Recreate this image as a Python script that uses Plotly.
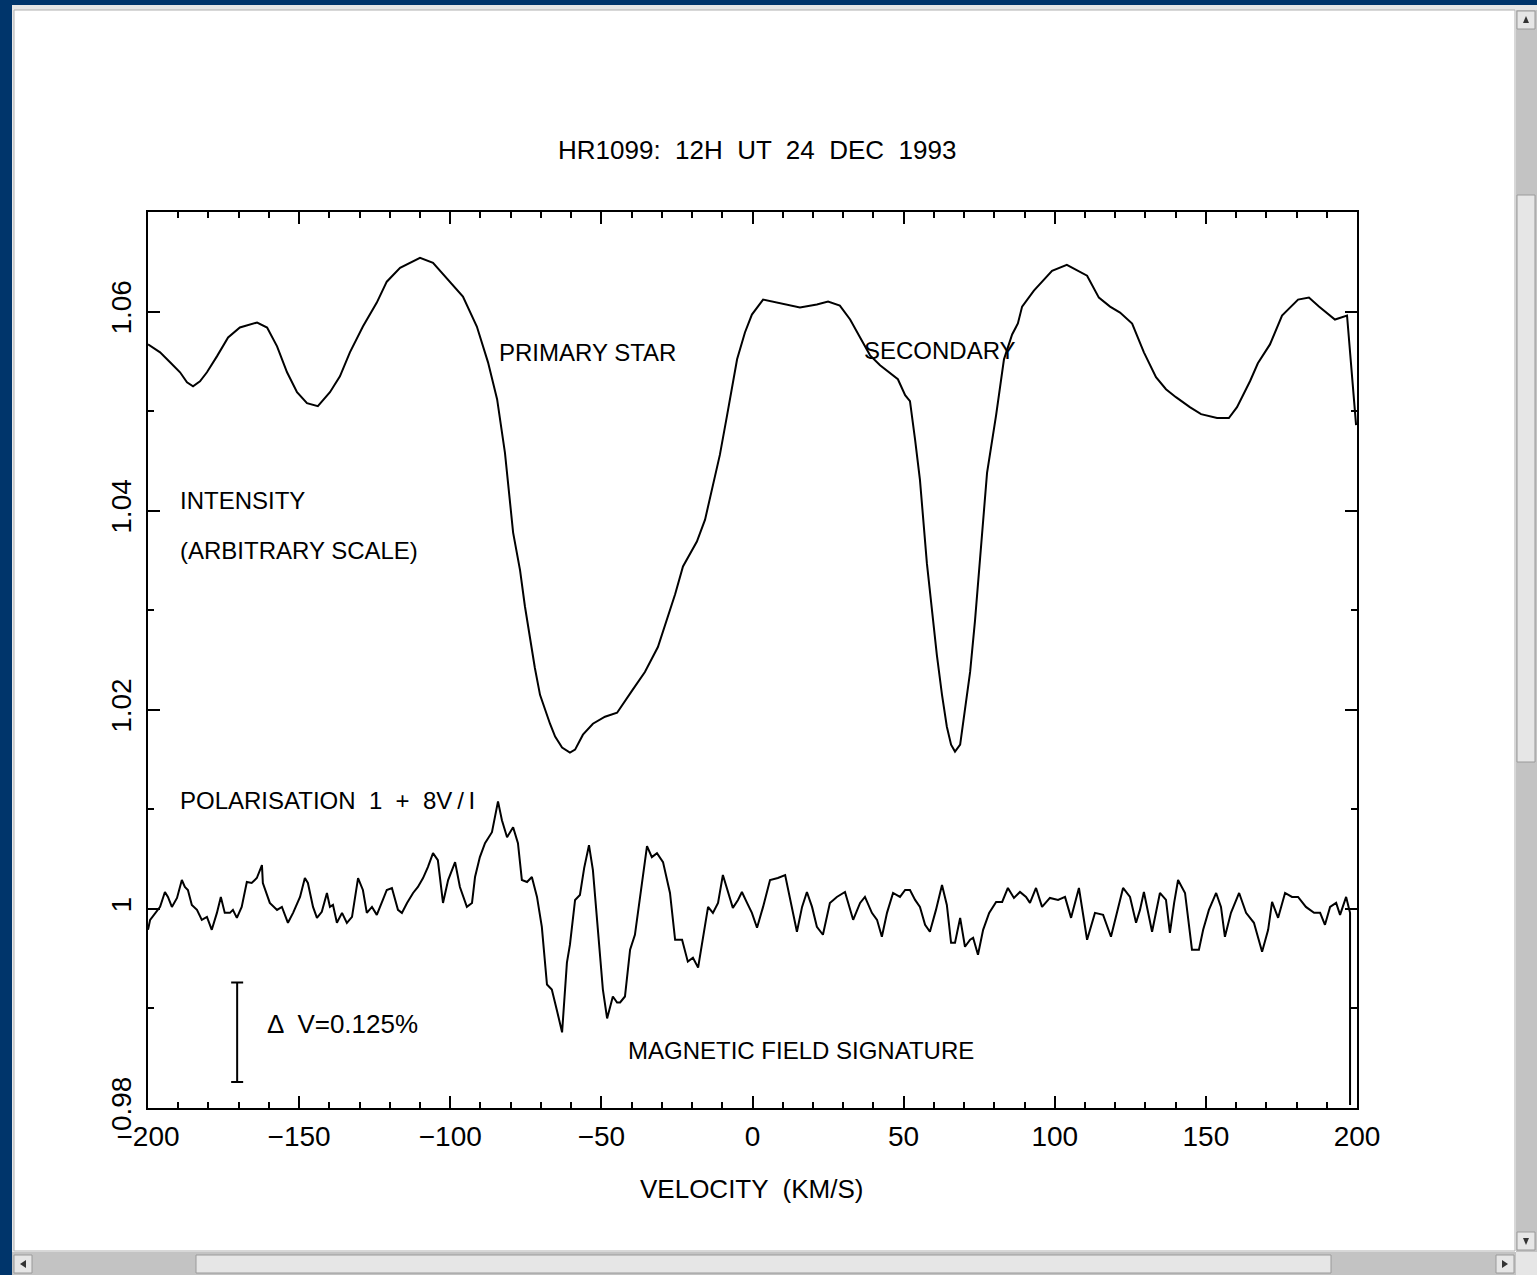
import plotly.graph_objects as go

# ---------------------------------------------------------------------------
# HR1099 line profiles, 12h UT 24 Dec 1993
# ---------------------------------------------------------------------------

# Intensity profile (arbitrary scale)
velocity_i = [
    -200.0, -196.0, -192.7, -189.4, -187.1, -185.1, -182.8, -180.5, -177.2, -173.5,
    -169.6, -163.9, -160.6, -157.3, -154.0, -150.7, -147.4, -143.8, -139.8, -136.5,
    -133.2, -128.9, -124.3, -121.0, -116.6, -110.0, -105.7, -100.1, -95.8, -91.2,
    -87.5, -84.5, -81.9, -79.2, -76.9, -75.3, -73.6, -72.0, -70.3, -68.7,
    -67.0, -65.3, -63.0, -60.4, -58.7, -56.1, -52.8, -48.8, -44.8, -39.9,
    -35.6, -31.3, -28.9, -25.6, -23.0, -18.4, -15.7, -13.1, -10.8, -8.4,
    -5.1, -2.5, -0.2, 3.5, 10.1, 15.7, 21.3, 25.0, 28.9, 32.3,
    35.6, 38.9, 42.2, 45.5, 48.1, 50.5, 52.1, 53.8, 55.4, 57.7,
    59.4, 61.0, 62.7, 64.3, 65.7, 67.0, 68.7, 70.3, 72.0, 73.6,
    75.6, 77.6, 80.6, 83.2, 85.9, 87.8, 89.2, 93.1, 99.1, 104.0,
    110.7, 114.6, 118.3, 121.6, 125.6, 129.5, 133.5, 136.8, 140.1, 144.7,
    148.4, 153.7, 157.6, 160.3, 164.6, 167.2, 171.2, 175.2, 180.5, 184.1,
    187.4, 192.7, 196.7, 199.7,
]
intensity = [
    1.0567, 1.0559, 1.0549, 1.0539, 1.0529, 1.0525, 1.0530, 1.0539, 1.0555, 1.0574,
    1.0584, 1.0589, 1.0584, 1.0565, 1.0539, 1.0519, 1.0508, 1.0505, 1.0519, 1.0535,
    1.0559, 1.0585, 1.0609, 1.0630, 1.0644, 1.0654, 1.0649, 1.0630, 1.0615, 1.0585,
    1.0549, 1.0512, 1.0458, 1.0378, 1.0340, 1.0304, 1.0270, 1.0242, 1.0215, 1.0200,
    1.0186, 1.0173, 1.0162, 1.0157, 1.0160, 1.0175, 1.0186, 1.0193, 1.0197, 1.0219,
    1.0238, 1.0263, 1.0285, 1.0316, 1.0344, 1.0369, 1.0391, 1.0427, 1.0456, 1.0496,
    1.0552, 1.0579, 1.0597, 1.0612, 1.0608, 1.0604, 1.0607, 1.0610, 1.0606, 1.0592,
    1.0574, 1.0556, 1.0546, 1.0538, 1.0532, 1.0516, 1.0510, 1.0471, 1.0431, 1.0347,
    1.0300, 1.0255, 1.0215, 1.0183, 1.0165, 1.0158, 1.0165, 1.0198, 1.0238, 1.0289,
    1.0366, 1.0438, 1.0496, 1.0552, 1.0577, 1.0588, 1.0605, 1.0621, 1.0641, 1.0647,
    1.0636, 1.0614, 1.0605, 1.0599, 1.0588, 1.0559, 1.0534, 1.0522, 1.0514, 1.0504,
    1.0497, 1.0493, 1.0493, 1.0504, 1.0530, 1.0548, 1.0567, 1.0596, 1.0612, 1.0614,
    1.0605, 1.0592, 1.0596, 1.0486,
]

# Circular polarisation, plotted as 1 + 8V/I
velocity_v = [
    -200.0, -199.3, -196.0, -194.4, -193.4, -192.1, -190.4, -188.8, -187.8, -186.8,
    -185.5, -183.8, -182.2, -180.5, -178.9, -177.2, -175.9, -174.6, -172.9, -171.9,
    -170.6, -169.0, -167.3, -165.7, -164.0, -162.3, -162.0, -159.7, -157.3, -155.7,
    -153.7, -152.0, -149.7, -148.1, -147.1, -145.4, -144.1, -142.5, -140.8, -139.8,
    -138.8, -137.5, -135.8, -134.2, -132.5, -131.5, -130.5, -128.9, -127.6, -125.9,
    -124.3, -122.3, -121.0, -119.3, -117.3, -116.0, -114.3, -112.3, -110.7, -109.0,
    -107.4, -105.7, -104.1, -102.4, -100.7, -98.4, -96.8, -94.5, -92.8, -91.8,
    -90.2, -88.5, -86.2, -84.2, -82.9, -81.2, -79.2, -77.6, -76.3, -74.6,
    -73.0, -71.3, -69.7, -68.0, -66.4, -64.7, -63.0, -61.4, -60.4, -58.7,
    -57.1, -55.7, -54.1, -52.8, -51.1, -49.5, -48.1, -46.2, -44.8, -43.8,
    -42.2, -40.5, -38.9, -36.9, -34.9, -33.3, -31.6, -29.6, -27.3, -25.6,
    -23.3, -21.4, -19.7, -18.0, -16.4, -14.7, -13.1, -11.4, -9.8, -8.1,
    -6.5, -4.8, -3.5, -1.8, -0.2, 1.5, 3.5, 5.8, 8.4, 10.8,
    12.4, 14.7, 16.4, 18.0, 19.7, 21.3, 23.3, 25.6, 27.9, 30.6,
    33.3, 35.6, 37.2, 39.5, 41.2, 42.8, 44.5, 46.5, 48.8, 50.5,
    52.1, 53.8, 55.4, 57.1, 58.7, 60.7, 62.7, 64.3, 65.7, 67.0,
    68.7, 70.3, 72.0, 73.0, 74.6, 76.3, 78.3, 80.6, 82.6, 84.5,
    86.5, 88.5, 90.5, 91.8, 93.8, 95.8, 98.4, 101.1, 103.4, 105.4,
    108.0, 110.7, 113.3, 116.0, 118.6, 120.6, 122.6, 124.9, 126.9, 128.2,
    129.5, 132.2, 134.8, 136.8, 138.1, 139.5, 140.8, 143.1, 145.4, 147.7,
    149.1, 151.0, 153.4, 155.0, 156.3, 158.3, 161.0, 163.3, 165.9, 168.6,
    170.6, 171.9, 173.9, 176.2, 178.5, 180.5, 183.1, 185.8, 187.8, 189.4,
    191.1, 193.1, 194.4, 196.4, 197.7, 197.7,
]
polarisation = [
    0.9979, 0.9989, 1.0002, 1.0017, 1.0012, 1.0002, 1.0011, 1.0029, 1.0022, 1.0019,
    1.0004, 0.9999, 0.9989, 0.9992, 0.9979, 0.9996, 1.0012, 0.9996, 0.9996, 0.9999,
    0.9991, 1.0002, 1.0027, 1.0026, 1.0031, 1.0044, 1.0026, 1.0006, 0.9999, 1.0002,
    0.9986, 0.9996, 1.0012, 1.0031, 1.0026, 1.0002, 0.9991, 0.9997, 1.0016, 1.0002,
    1.0004, 0.9986, 0.9996, 0.9986, 0.9992, 1.0012, 1.0031, 1.0019, 0.9996, 1.0002,
    0.9994, 1.0009, 1.0019, 1.0021, 0.9999, 0.9996, 1.0006, 1.0016, 1.0022, 1.0031,
    1.0042, 1.0056, 1.0049, 1.0006, 1.0029, 1.0047, 1.0022, 1.0002, 1.0006, 1.0032,
    1.0052, 1.0066, 1.0077, 1.0108, 1.0089, 1.0072, 1.0082, 1.0066, 1.0029, 1.0027,
    1.0032, 1.0012, 0.9982, 0.9924, 0.9919, 0.9898, 0.9876, 0.9946, 0.9964, 1.0009,
    1.0014, 1.0041, 1.0064, 1.0039, 0.9979, 0.9919, 0.9890, 0.9912, 0.9906, 0.9906,
    0.9912, 0.9959, 0.9974, 1.0019, 1.0063, 1.0052, 1.0056, 1.0047, 1.0016, 0.9969,
    0.9969, 0.9947, 0.9951, 0.9941, 0.9972, 1.0002, 0.9996, 1.0006, 1.0034, 1.0016,
    1.0001, 1.0009, 1.0017, 1.0006, 0.9996, 0.9981, 1.0002, 1.0029, 1.0031, 1.0034,
    1.0009, 0.9977, 1.0002, 1.0017, 1.0002, 0.9982, 0.9974, 1.0006, 1.0012, 1.0017,
    0.9989, 1.0006, 1.0012, 0.9996, 0.9989, 0.9972, 0.9996, 1.0016, 1.0012, 1.0019,
    1.0019, 1.0009, 1.0002, 0.9984, 0.9977, 0.9999, 1.0024, 1.0004, 0.9966, 0.9966,
    0.9991, 0.9962, 0.9969, 0.9971, 0.9954, 0.9979, 0.9996, 1.0007, 1.0007, 1.0021,
    1.0011, 1.0017, 1.0012, 1.0006, 1.0021, 1.0002, 1.0011, 1.0009, 1.0012, 0.9991,
    1.0021, 0.9969, 0.9996, 0.9994, 0.9972, 0.9996, 1.0021, 1.0012, 0.9986, 0.9999,
    1.0017, 0.9977, 1.0016, 1.0009, 0.9976, 1.0006, 1.0029, 1.0016, 0.9959, 0.9959,
    0.9979, 0.9999, 1.0016, 1.0002, 0.9972, 0.9996, 1.0016, 0.9996, 0.9986, 0.9957,
    0.9979, 1.0007, 0.9991, 1.0016, 1.0012, 1.0012, 1.0002, 0.9996, 0.9996, 0.9984,
    1.0002, 1.0006, 0.9994, 1.0012, 0.9996, 0.9803,
]

# Scale bar for Stokes V: delta V = 0.125 %, amplified by 8 in the plot
scale_bar_velocity = -170.5
scale_bar_centre = 0.9876
delta_v_percent = 0.125
amplification = 8

# Axis ticks
x_tick_values = [-200, -150, -100, -50, 0, 50, 100, 150, 200]
x_tick_labels = ["\u2212200", "\u2212150", "\u2212100", "\u221250", "0", "50", "100", "150", "200"]
y_tick_values = [0.98, 1.00, 1.02, 1.04, 1.06]
y_tick_labels = ["0.98", "1", "1.02", "1.04", "1.06"]

FONT = "Liberation Sans, Arial, sans-serif"

# Page geometry (pixels)
FIG_W, FIG_H = 1537, 1275
PLOT_L, PLOT_R, PLOT_T, PLOT_B = 148, 1357, 212, 1108
PW, PH = PLOT_R - PLOT_L, PLOT_B - PLOT_T


def px_x(p):
    return (p - PLOT_L) / PW


def px_y(p):
    return (PLOT_B - p) / PH


fig = go.Figure()

fig.add_trace(go.Scatter(
    x=velocity_i, y=intensity, mode="lines",
    line=dict(color="black", width=2), hoverinfo="skip", showlegend=False,
))
fig.add_trace(go.Scatter(
    x=velocity_v, y=polarisation, mode="lines",
    line=dict(color="black", width=2), hoverinfo="skip", showlegend=False,
))

half_bar = amplification * delta_v_percent / 100 / 2
fig.add_trace(go.Scatter(
    x=[scale_bar_velocity], y=[scale_bar_centre], mode="markers",
    marker=dict(size=1, color="rgba(0,0,0,0)"),
    error_y=dict(type="data", array=[half_bar], symmetric=True,
                 color="black", thickness=2, width=6),
    hoverinfo="skip", showlegend=False,
))

axis_common = dict(
    showline=True, linecolor="black", linewidth=2, mirror="ticks",
    ticks="inside", tickcolor="black", tickwidth=2, ticklen=12,
    showgrid=False, zeroline=False,
    tickfont=dict(family=FONT, size=28, color="black"),
)

fig.update_xaxes(
    range=[-200, 200], tickmode="array", tickvals=x_tick_values, ticktext=x_tick_labels,
    ticklabelstandoff=2,
    minor=dict(ticks="inside", ticklen=6, tickwidth=1.5, tickcolor="black",
               tickmode="linear", tick0=0, dtick=10, showgrid=False),
    **axis_common,
)
fig.update_yaxes(
    range=[0.98, 1.07], tickmode="array", tickvals=y_tick_values, ticktext=y_tick_labels,
    tickangle=-90, ticklabelstandoff=4,
    minor=dict(ticks="inside", ticklen=6, tickwidth=1.5, tickcolor="black",
               tickmode="linear", tick0=0.98, dtick=0.01, showgrid=False),
    **axis_common,
)

# Text labels inside the panel (data coordinates)
labels = [
    ("PRIMARY STAR", -84.5, 1.0559, 24),
    ("SECONDARY", 36.2, 1.0561, 24),
    ("INTENSITY", -190.1, 1.0410, 24),
    ("(ARBITRARY SCALE)", -190.1, 1.0360, 24),
    ("POLARISATION  1  +  8V\u2009/\u2009I", -190.1, 1.0109, 24),
    ("\u0394  V=0.125%", -161.3, 0.9884, 26),
    ("MAGNETIC FIELD SIGNATURE", -41.9, 0.9858, 24),
]
annotations = []
for text, vx, vy, size in labels:
    annotations.append(dict(
        text=text, x=vx, y=vy, xref="x", yref="y", xanchor="left", yanchor="middle",
        showarrow=False, font=dict(family=FONT, size=size, color="black"),
    ))

annotations.append(dict(
    text="HR1099:  12H  UT  24  DEC  1993", x=px_x(757), y=px_y(150),
    xref="paper", yref="paper", xanchor="center", yanchor="middle",
    showarrow=False, font=dict(family=FONT, size=26, color="black"),
))
annotations.append(dict(
    text="VELOCITY  (KM/S)", x=px_x(751), y=px_y(1189),
    xref="paper", yref="paper", xanchor="center", yanchor="middle",
    showarrow=False, font=dict(family=FONT, size=26, color="black"),
))

# Surrounding viewer frame: border, scrollbars
NAVY = "#00356b"
TRACK = "#c3c3c3"
FACE = "#e6e6e6"
EDGE = "#9a9a9a"


def rect(x0, y0, x1, y1, fill, line=None):
    return dict(
        type="rect", xref="paper", yref="paper", layer="above",
        x0=px_x(x0), x1=px_x(x1), y0=px_y(y1), y1=px_y(y0),
        fillcolor=fill, line=dict(width=1 if line else 0, color=line or fill),
    )


shapes = [
    rect(0, 0, 12, FIG_H, NAVY),
    rect(0, 0, FIG_W, 5, NAVY),
    rect(12, 5, FIG_W, 10, FACE),
    rect(12, 5, 14, FIG_H, FACE),
    # vertical scrollbar
    rect(1516, 10, FIG_W, 1252, TRACK),
    rect(1517, 11, 1535, 29, FACE, EDGE),
    rect(1517, 195, 1535, 762, FACE, EDGE),
    rect(1517, 1232, 1535, 1250, FACE, EDGE),
    # horizontal scrollbar
    rect(12, 1252, 1516, FIG_H, TRACK),
    rect(14, 1255, 32, 1273, FACE, EDGE),
    rect(196, 1255, 1331, 1273, FACE, EDGE),
    rect(1496, 1255, 1514, 1273, FACE, EDGE),
    rect(1516, 1252, FIG_W, FIG_H, FACE),
    # thin edge of the white page
    dict(type="rect", xref="paper", yref="paper", layer="above",
         x0=px_x(14), x1=px_x(1515), y0=px_y(1251), y1=px_y(10),
         fillcolor="rgba(0,0,0,0)", line=dict(width=1, color="#b0b0b0")),
]

for tri in (
    "M {} {} L {} {} L {} {} Z".format(px_x(1523), px_y(23), px_x(1529), px_y(23), px_x(1526), px_y(16)),
    "M {} {} L {} {} L {} {} Z".format(px_x(1523), px_y(1238), px_x(1529), px_y(1238), px_x(1526), px_y(1245)),
    "M {} {} L {} {} L {} {} Z".format(px_x(26), px_y(1260), px_x(26), px_y(1268), px_x(20), px_y(1264)),
    "M {} {} L {} {} L {} {} Z".format(px_x(1502), px_y(1260), px_x(1502), px_y(1268), px_x(1508), px_y(1264)),
):
    shapes.append(dict(type="path", xref="paper", yref="paper", layer="above",
                       path=tri, fillcolor="#333333", line=dict(width=0)))

fig.update_layout(
    width=FIG_W, height=FIG_H,
    margin=dict(l=PLOT_L, r=FIG_W - PLOT_R, t=PLOT_T, b=FIG_H - PLOT_B, pad=0, autoexpand=False),
    paper_bgcolor="white", plot_bgcolor="white",
    font=dict(family=FONT, color="black"),
    annotations=annotations, shapes=shapes,
)

fig.write_html("out.html", config={"displayModeBar": False})
